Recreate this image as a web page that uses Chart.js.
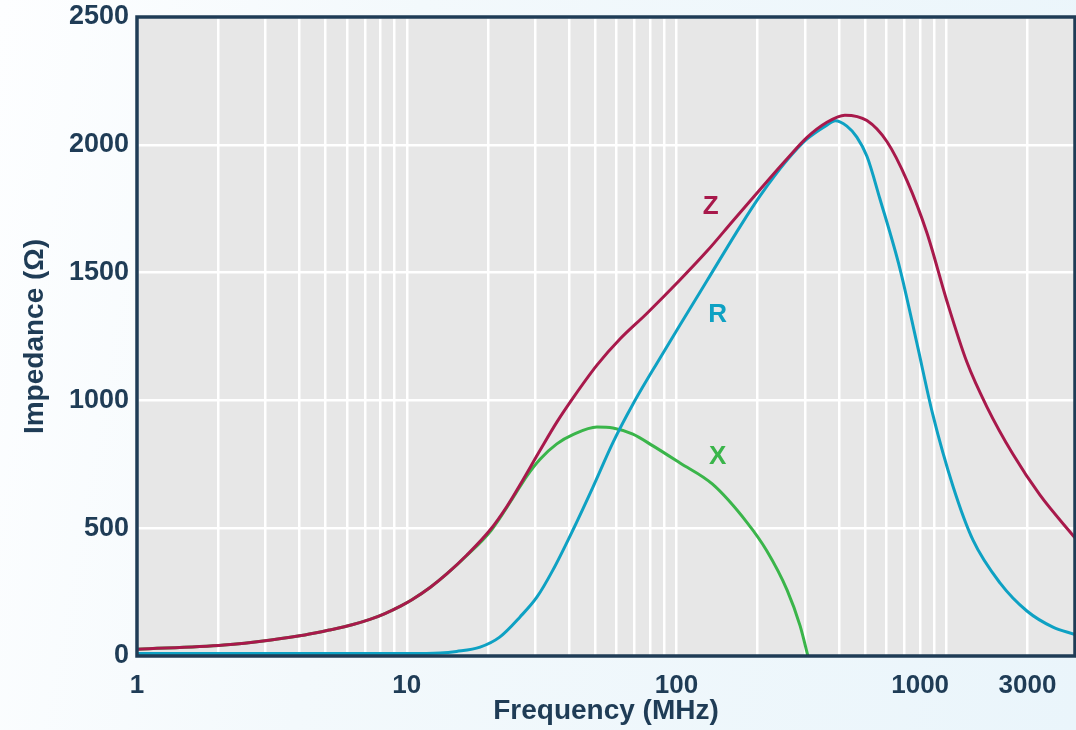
<!DOCTYPE html>
<html>
<head>
<meta charset="utf-8">
<title>Impedance vs Frequency</title>
<script src="https://cdn.jsdelivr.net/npm/chart.js@4.4.1/dist/chart.umd.min.js"></script>
<style>
  html, body { margin:0; padding:0; }
  body { width:1076px; height:730px; overflow:hidden;
         background: linear-gradient(100deg, #fdfeff 0%, #f3f9fc 35%, #eaf5fb 100%); }
  #wrap { position:relative; width:1076px; height:730px; }
</style>
</head>
<body>
<div id="wrap"><canvas id="chart" width="1076" height="730"></canvas></div>
<script>
// Data (frequency in MHz, impedance in ohm)
const zFreq = [1, 2.1, 3.14, 4.19, 5.19, 6.32, 7.3, 8.3, 9.52, 10.45, 12.2, 14.1, 16.7, 20.5, 23.5, 26.3, 31.2, 36, 41.3, 50.7, 61.7, 77.6, 101, 130, 162, 204, 257, 304, 361, 421, 508, 603, 715, 848, 1005, 1192, 1414, 1765, 2223, 3000];
const zVal  = [26, 43, 63, 82, 102, 123, 143, 166, 196, 220, 268, 322, 395, 497, 585, 670, 805, 915, 1009, 1138, 1240, 1340, 1462, 1585, 1703, 1825, 1945, 2028, 2088, 2116, 2095, 2012, 1860, 1655, 1389, 1150, 975, 790, 630, 462];

const rFreq = [1, 10, 13.3, 15.3, 18.7, 22.1, 26.3, 30.4, 34.8, 41.3, 49, 58.1, 68.9, 86.8, 103, 130, 172, 204, 257, 304, 361, 387, 428, 466, 508, 567, 673, 778, 892, 1058, 1255, 1581, 1990, 2485, 3000];
const rVal  = [10, 10, 12, 18, 35, 74, 153, 231, 336, 493, 661, 835, 985, 1165, 1295, 1470, 1680, 1800, 1940, 2022, 2077, 2094, 2073, 2030, 1955, 1790, 1516, 1224, 943, 665, 454, 286, 176, 113, 84];

const xFreq = [1, 2.1, 3.14, 4.19, 5.19, 6.32, 7.3, 8.3, 9.52, 10.45, 12.2, 14.1, 16.7, 20.5, 24.8, 27.9, 31.2, 36, 41.3, 50.7, 58.1, 68.9, 81.8, 103, 136, 182, 216, 257, 287, 307];
const xVal  = [26, 43, 63, 82, 102, 123, 143, 166, 196, 220, 268, 322, 393, 490, 620, 705, 770, 830, 866, 896, 892, 868, 822, 755, 672, 524, 412, 258, 119, 0];

// x tick labels, placed where the reference prints them
const tickAt    = [1, 10, 100, 800, 2000];
const tickNames = ["1", "10", "100", "1000", "3000"];

// curve names drawn inside the plot
const curveNames  = ["Z", "R", "X"];
const curveNameAt = [[134, 1758], [142, 1334], [142, 778]];

const NAVY = "#1f3c56";
const FONT = '"Liberation Sans", Arial, sans-serif';
const COLORS = { Z: "#a8194b", R: "#0ea1c3", X: "#3ab54a" };

function pts(xs, ys){ return xs.map((x, i) => ({ x, y: ys[i] })); }
function gridFreqs(){
  const out = [];
  for (let d = 1; d <= 1000; d *= 10){
    for (let m = 1; m <= 9; m++){ const v = m * d; if (v <= 3000) out.push(v); }
  }
  return out;
}
function tickLabel(v){
  const i = tickAt.findIndex(t => Math.abs(t - v) < 1e-6);
  return i >= 0 ? tickNames[i] : "";
}

// plot background, frame and curve names
const plotBox = {
  id: "plotBox",
  beforeDraw(chart){
    const a = chart.chartArea, ctx = chart.ctx;
    ctx.save();
    ctx.fillStyle = "#e7e7e7";
    ctx.fillRect(a.left, a.top, a.right - a.left, a.bottom - a.top);
    ctx.restore();
  },
  afterDraw(chart){
    const a = chart.chartArea, ctx = chart.ctx;
    ctx.save();
    ctx.strokeStyle = NAVY;
    ctx.lineWidth = 3.5;
    ctx.strokeRect(a.left, a.top, a.right - a.left, a.bottom - a.top);
    ctx.font = "bold 26px " + FONT;
    ctx.textAlign = "center";
    ctx.textBaseline = "middle";
    curveNames.forEach((n, i) => {
      const [f, v] = curveNameAt[i];
      ctx.fillStyle = COLORS[n];
      ctx.fillText(n, chart.scales.x.getPixelForValue(f), chart.scales.y.getPixelForValue(v));
    });
    ctx.restore();
  }
};

function line(label, xs, ys){
  return { label, data: pts(xs, ys), borderColor: COLORS[label], borderWidth: 3,
           pointRadius: 0, fill: false, cubicInterpolationMode: "monotone" };
}

new Chart(document.getElementById("chart").getContext("2d"), {
  type: "line",
  data: { datasets: [ line("Z", zFreq, zVal), line("R", rFreq, rVal), line("X", xFreq, xVal) ] },
  options: {
    responsive: false, animation: false,
    layout: { padding: { top: 17, right: 1, left: 0, bottom: 0 } },
    plugins: { legend: { display: false }, tooltip: { enabled: false } },
    scales: {
      x: {
        type: "logarithmic", min: 1, max: 3000,
        afterBuildTicks: s => { s.ticks = gridFreqs().map(v => ({ value: v })); },
        afterFit: s => { s.height = 74; s.paddingLeft = 0; s.paddingRight = 0; },
        grid: { color: "#ffffff", lineWidth: 2.5, drawTicks: false },
        border: { display: false },
        ticks: { autoSkip: false, maxRotation: 0, padding: 14, color: NAVY,
                 font: { family: FONT, size: 26, weight: "bold" }, callback: v => tickLabel(v) },
        title: { display: true, text: "Frequency (MHz)", color: NAVY,
                 font: { family: FONT, size: 28, weight: "bold", lineHeight: 1 }, padding: { top: 0, bottom: 5 } }
      },
      y: {
        min: 0, max: 2500,
        afterFit: s => { s.width = 137; s.paddingTop = 0; s.paddingBottom = 0; },
        grid: { color: "#ffffff", lineWidth: 2.5, drawTicks: false },
        border: { display: false },
        ticks: { stepSize: 500, padding: 8, color: NAVY, font: { family: FONT, size: 27, weight: "bold" },
                 callback: v => String(v) },
        title: { display: true, text: "Impedance (Ω)", color: NAVY,
                 font: { family: FONT, size: 28, weight: "bold", lineHeight: 1 }, padding: { top: 21, bottom: 0 } }
      }
    }
  },
  plugins: [plotBox]
});
</script>
</body>
</html>
